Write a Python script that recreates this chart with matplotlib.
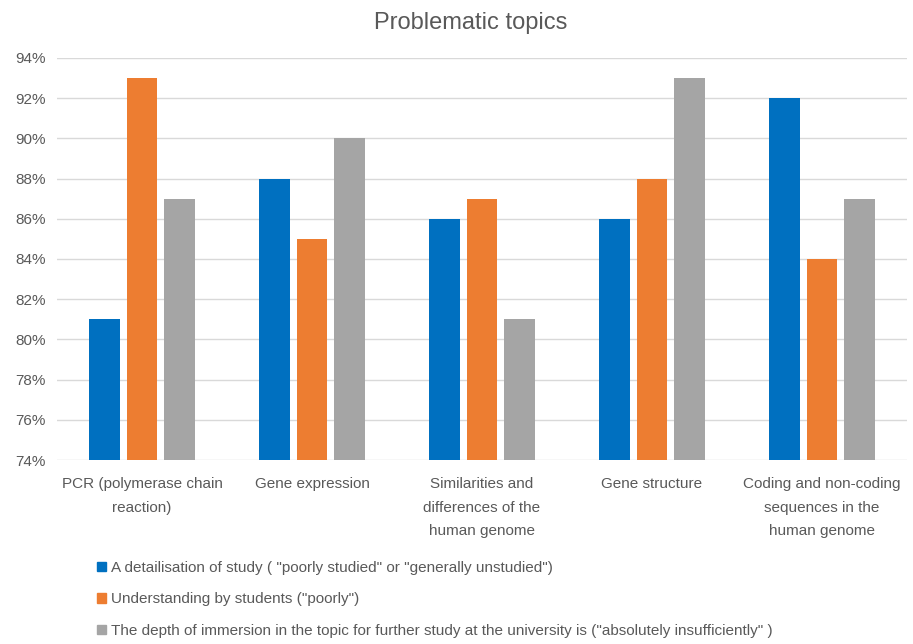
import matplotlib.pyplot as plt
import numpy as np
from matplotlib.patches import Patch

TOPICS = [
    "PCR (polymerase chain\nreaction)",
    "Gene expression",
    "Similarities and\ndifferences of the\nhuman genome",
    "Gene structure",
    "Coding and non-coding\nsequences in the\nhuman genome",
]
DETAIL = [81, 88, 86, 86, 92]
UNDERSTANDING = [93, 85, 87, 88, 84]
DEPTH = [87, 90, 81, 93, 87]
SERIES_LABELS = [
    'A detailisation of study ( "poorly studied" or "generally unstudied")',
    'Understanding by students ("poorly")',
    'The depth of immersion in the topic for further study at the university is ("absolutely insufficiently" )',
]
COLORS = ["#0070C0", "#ED7D31", "#A5A5A5"]
TEXT_C = "#595959"

plt.rcParams["font.family"] = ["Liberation Sans", "DejaVu Sans"]

fig = plt.figure(figsize=(9.13, 6.44), dpi=100)
ax = fig.add_axes([0.0624, 0.2857, 0.931, 0.6243])

x = np.arange(len(TOPICS))
w = 0.18
step = 0.222
for i, (vals, c) in enumerate(zip([DETAIL, UNDERSTANDING, DEPTH], COLORS)):
    ax.bar(x + (i - 1) * step, vals, w, color=c, zorder=3)

ax.set_ylim(74, 94)
ax.set_xlim(-0.5, len(TOPICS) - 0.5)
ax.set_yticks(range(74, 95, 2))
ax.set_yticklabels([f"{v}%" for v in range(74, 95, 2)], fontsize=11, color=TEXT_C)
ax.set_xticks(x)
ax.set_xticklabels(TOPICS, fontsize=11, color=TEXT_C, linespacing=1.9)
ax.tick_params(axis="x", length=0, pad=12)
ax.tick_params(axis="y", length=0, pad=8)
ax.grid(axis="y", color="#D9D9D9", lw=1, zorder=0)
for s in ax.spines.values():
    s.set_visible(False)

fig.text(0.515, 0.965, "Problematic topics", ha="center", va="center",
         fontsize=17, color=TEXT_C)

handles = [Patch(color=c) for c in COLORS]
fig.legend(handles, SERIES_LABELS, loc="upper left", bbox_to_anchor=(0.098, 0.141),
           frameon=False, fontsize=11, labelcolor=TEXT_C, handlelength=0.6,
           handleheight=0.6, handletextpad=0.3, labelspacing=1.15, borderpad=0)

fig.savefig("out.png", dpi=100)
